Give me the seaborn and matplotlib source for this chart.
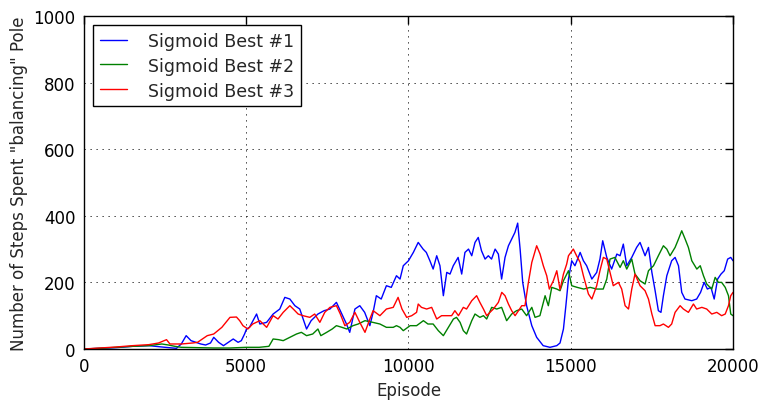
import matplotlib
matplotlib.use("Agg")
import matplotlib.pyplot as plt
import seaborn as sns
import pandas as pd

labels = ["Sigmoid Best #1", "Sigmoid Best #2", "Sigmoid Best #3"]
colors = ["#0000ff", "#008000", "#ff0000"]

blue_x = [0, 500, 1000, 1500, 2000, 2500, 2850, 3000, 3150, 3300, 3450, 3600, 3750, 3900, 4000, 4150, 4300, 4450, 4600, 4750, 4850, 4950, 5010, 5100, 5320, 5420, 5630, 5830, 6035, 6190, 6345, 6500, 6650, 6860, 7000, 7210, 7400, 7580, 7780, 7900, 8090, 8190, 8350, 8500, 8650, 8810, 8910, 9010, 9160, 9320, 9470, 9630, 9740, 9840, 10000, 10150, 10300, 10450, 10550, 10660, 10760, 10870, 10970, 11075, 11180, 11280, 11380, 11530, 11640, 11740, 11850, 11950, 12050, 12150, 12250, 12360, 12460, 12560, 12670, 12770, 12870, 12975, 13080, 13180, 13280, 13365, 13440, 13520, 13640, 13800, 13950, 14150, 14360, 14570, 14670, 14775, 14850, 14930, 15030, 15130, 15290, 15390, 15490, 15650, 15800, 15900, 15985, 16110, 16260, 16420, 16520, 16620, 16725, 16880, 17030, 17135, 17290, 17395, 17500, 17600, 17700, 17780, 17855, 17960, 18110, 18215, 18320, 18420, 18520, 18730, 18880, 19000, 19110, 19210, 19320, 19420, 19525, 19630, 19730, 19835, 19930, 20000]
blue_y = [0, 2, 4, 8, 10, 5, 2, 15, 40, 25, 20, 15, 12, 18, 35, 20, 10, 20, 30, 20, 25, 45, 60, 65, 105, 75, 80, 105, 120, 155, 150, 130, 120, 60, 85, 105, 115, 120, 140, 115, 75, 50, 120, 130, 110, 70, 110, 160, 150, 190, 185, 220, 210, 250, 265, 290, 320, 300, 290, 265, 240, 280, 250, 160, 230, 225, 250, 275, 225, 290, 300, 280, 320, 335, 295, 270, 280, 270, 300, 285, 210, 275, 310, 330, 350, 378, 300, 200, 130, 70, 35, 10, 5, 10, 18, 60, 130, 210, 265, 250, 290, 265, 250, 210, 230, 270, 325, 275, 240, 285, 280, 315, 250, 275, 305, 320, 280, 305, 230, 175, 115, 110, 160, 220, 265, 275, 250, 170, 150, 145, 150, 170, 200, 180, 185, 150, 210, 225, 235, 270, 275, 265]

green_x = [0, 500, 1000, 1500, 2000, 2400, 2600, 2800, 3000, 3500, 4000, 4500, 5000, 5400, 5700, 5830, 6000, 6140, 6345, 6550, 6700, 6860, 7050, 7210, 7300, 7480, 7650, 7780, 7950, 8100, 8290, 8450, 8660, 8900, 9120, 9320, 9530, 9630, 9740, 9840, 10050, 10250, 10460, 10600, 10760, 10920, 11075, 11230, 11385, 11480, 11590, 11690, 11790, 11950, 12050, 12200, 12310, 12410, 12565, 12720, 12870, 13025, 13180, 13330, 13490, 13640, 13800, 13900, 14050, 14210, 14310, 14415, 14570, 14670, 14775, 14930, 15030, 15200, 15400, 15600, 15800, 16000, 16110, 16210, 16360, 16520, 16620, 16725, 16880, 16980, 17135, 17290, 17395, 17550, 17700, 17855, 17960, 18060, 18215, 18320, 18420, 18525, 18625, 18730, 18885, 18990, 19090, 19190, 19345, 19450, 19550, 19650, 19760, 19860, 19930, 20000]
green_y = [0, 2, 5, 8, 10, 15, 12, 8, 5, 4, 3, 3, 5, 5, 8, 30, 28, 25, 35, 45, 50, 40, 45, 60, 40, 50, 60, 70, 65, 60, 70, 75, 85, 80, 75, 65, 65, 70, 65, 55, 70, 70, 85, 75, 75, 55, 40, 65, 90, 95, 80, 55, 45, 85, 105, 95, 100, 90, 125, 120, 125, 85, 105, 115, 120, 100, 125, 95, 100, 160, 130, 185, 180, 175, 205, 235, 190, 185, 180, 185, 180, 180, 210, 270, 275, 245, 265, 240, 270, 225, 205, 195, 235, 250, 280, 310, 300, 280, 305, 330, 355, 330, 305, 265, 240, 250, 220, 195, 180, 215, 200, 200, 185, 160, 105, 100]

red_x = [0, 500, 1000, 1500, 2000, 2300, 2545, 2650, 3000, 3350, 3500, 3800, 4000, 4250, 4500, 4700, 4800, 4900, 5050, 5200, 5420, 5630, 5830, 5980, 6140, 6345, 6450, 6600, 6750, 6960, 7110, 7270, 7420, 7580, 7780, 7900, 8040, 8190, 8350, 8500, 8660, 8810, 8910, 9120, 9320, 9530, 9680, 9800, 9945, 10100, 10250, 10300, 10400, 10560, 10715, 10870, 11020, 11180, 11330, 11430, 11540, 11690, 11790, 11950, 12100, 12200, 12310, 12410, 12510, 12615, 12770, 12875, 12975, 13080, 13180, 13285, 13390, 13490, 13590, 13695, 13800, 13950, 14055, 14155, 14260, 14340, 14465, 14570, 14670, 14775, 14875, 14930, 15080, 15180, 15290, 15390, 15545, 15650, 15800, 15900, 16005, 16110, 16210, 16310, 16470, 16570, 16675, 16780, 16880, 16980, 17135, 17290, 17395, 17500, 17600, 17750, 17855, 18010, 18110, 18215, 18370, 18470, 18625, 18780, 18880, 19040, 19190, 19345, 19500, 19650, 19760, 19860, 19930, 20000]
red_y = [0, 3, 6, 10, 13, 18, 28, 15, 15, 18, 20, 40, 45, 65, 95, 96, 85, 70, 60, 75, 85, 65, 100, 90, 110, 130, 120, 105, 100, 95, 105, 80, 110, 125, 130, 105, 70, 80, 110, 80, 50, 90, 115, 100, 120, 125, 155, 120, 95, 100, 110, 135, 125, 120, 125, 90, 100, 100, 100, 115, 100, 125, 120, 145, 160, 140, 120, 100, 110, 120, 140, 170, 160, 135, 115, 100, 115, 130, 130, 200, 260, 310, 285, 250, 220, 180, 205, 235, 178, 225, 255, 280, 300, 280, 260, 220, 165, 150, 190, 235, 275, 270, 230, 190, 200, 180, 130, 120, 180, 225, 190, 175, 150, 105, 70, 70, 75, 65, 75, 110, 130, 120, 110, 135, 120, 125, 120, 105, 110, 100, 105, 130, 160, 170]

frames = []
for lab, xs, ys in zip(labels, [blue_x, green_x, red_x], [blue_y, green_y, red_y]):
    frames.append(pd.DataFrame({"Episode": xs, "Steps": ys, "Series": lab}))
df = pd.concat(frames, ignore_index=True)

sns.set_style("white")
plt.rcParams["font.family"] = ["DejaVu Sans"]
plt.rcParams["font.size"] = 12

fig = plt.figure(figsize=(7.63, 4.02), dpi=100)
ax = fig.add_axes([0.110, 0.1294, 0.8507, 0.8283])

sns.lineplot(data=df, x="Episode", y="Steps", hue="Series", hue_order=labels,
             palette=colors, estimator=None, sort=False, linewidth=1.0, ax=ax)

ax.set_xlim(0, 20000)
ax.set_ylim(0, 1000)
ax.set_xticks([0, 5000, 10000, 15000, 20000])
ax.set_yticks([0, 200, 400, 600, 800, 1000])
ax.set_xlabel("Episode", fontsize=12)
ax.set_ylabel('Number of Steps Spent "balancing" Pole', fontsize=12)
ax.grid(True, linestyle=(0, (1.5, 5.7)), color="black", linewidth=0.6)
ax.tick_params(direction="in", top=True, right=True, length=6, width=1,
               labelsize=12, colors="black", pad=6)
for s in ax.spines.values():
    s.set_color("black")
    s.set_linewidth(1.0)

leg = ax.legend(loc="upper left", prop={"size": 12.5}, frameon=True, fancybox=False,
                edgecolor="black", framealpha=1, handlelength=1.6,
                handletextpad=1.2, borderaxespad=0.5, labelspacing=0.4)
leg.get_frame().set_linewidth(1.0)

fig.savefig("out.png", dpi=100)
